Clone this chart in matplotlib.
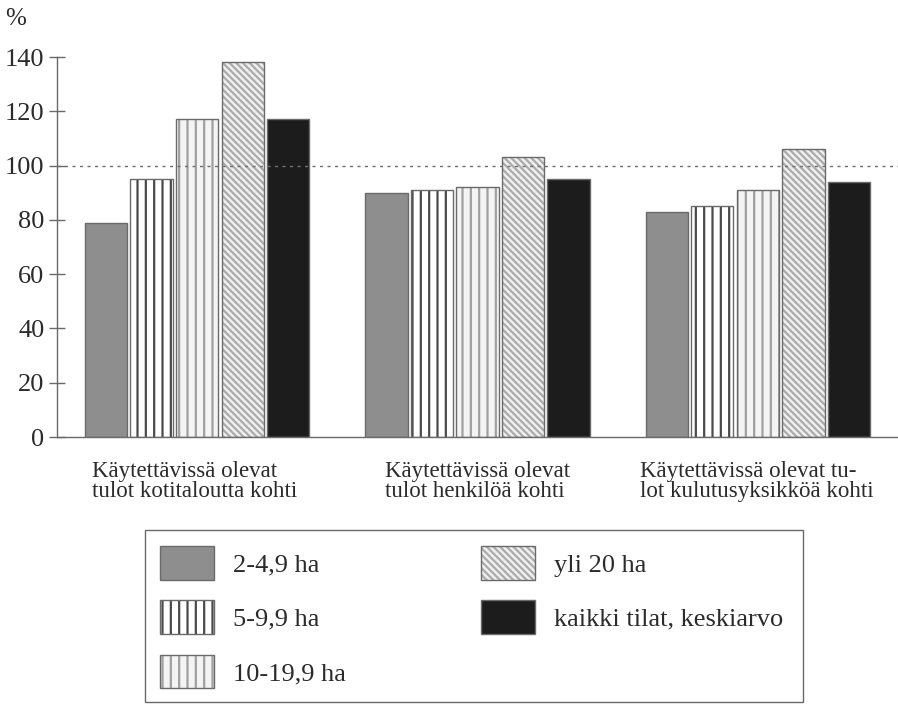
import matplotlib
matplotlib.use("Agg")
import matplotlib.pyplot as plt
import numpy as np
from matplotlib.patches import Patch, Rectangle
from matplotlib.legend_handler import HandlerTuple
from matplotlib.transforms import blended_transform_factory

plt.rcParams['font.family'] = ['Liberation Serif', 'DejaVu Serif']
plt.rcParams['hatch.linewidth'] = 1.6

# --- data -------------------------------------------------------------
categories = [
    "Käytettävissä olevat\ntulot kotitaloutta kohti",
    "Käytettävissä olevat\ntulot henkilöä kohti",
    "Käytettävissä olevat tu-\nlot kulutusyksikköä kohti",
]
series_labels = ["2-4,9 ha", "5-9,9 ha", "10-19,9 ha", "yli 20 ha",
                 "kaikki tilat, keskiarvo"]
ha_2_4 = [79, 90, 83]
ha_5_9 = [95, 91, 85]
ha_10_19 = [117, 92, 91]
ha_over_20 = [138, 103, 106]
all_farms_mean = [117, 95, 94]
series_values = [ha_2_4, ha_5_9, ha_10_19, ha_over_20, all_farms_mean]
reference_level = 100
y_ticks = [0, 20, 40, 60, 80, 100, 120, 140]

# --- styles -----------------------------------------------------------
face_colors = ['#8e8e8e', '#ffffff', '#f4f4f4', '#f0f0f0', '#1c1c1c']
hatches = [None, '||', '||', '\\\\\\\\\\', None]
hatch_colors = ['#8e8e8e', '#4a4a4a', '#a0a0a0', '#ababab', '#1c1c1c']
outline = '#6a6a6a'
text_color = '#2b2b2b'

W, H = 898, 705
fig = plt.figure(figsize=(W / 100, H / 100), dpi=100)
fig.patch.set_facecolor('white')

ax_left, ax_right, ax_top, ax_bottom = 57, 898, 57, 437
ax = fig.add_axes([ax_left / W, 1 - ax_bottom / H,
                   (ax_right - ax_left) / W, (ax_bottom - ax_top) / H])

x = np.arange(len(categories))
pitch = 0.1625
width = 0.151
handles = []
for i, vals in enumerate(series_values):
    pos = x + (i - 2) * pitch
    ax.bar(pos, vals, width, color=face_colors[i], linewidth=0, zorder=2)
    if hatches[i]:
        ax.bar(pos, vals, width, fill=False, hatch=hatches[i],
               edgecolor=hatch_colors[i], linewidth=0, zorder=2.1)
    ax.bar(pos, vals, width, fill=False, edgecolor=outline,
           linewidth=1.0, zorder=2.2)
    layers = [Patch(facecolor=face_colors[i], linewidth=0)]
    if hatches[i]:
        layers.append(Patch(fill=False, hatch=hatches[i],
                            edgecolor=hatch_colors[i], linewidth=0))
    layers.append(Patch(fill=False, edgecolor=outline, linewidth=1.0))
    handles.append(tuple(layers))

ax.axhline(reference_level, color='#6f6f6f', linewidth=1.0,
           linestyle=(0, (2.2, 3.2)), zorder=3)

ax.set_xlim(-0.5, 2.5)
ax.set_ylim(0, 140)
ax.set_yticks(y_ticks)
ax.set_yticklabels([str(t) for t in y_ticks], fontsize=19, color=text_color)
ax.tick_params(axis='y', direction='inout', length=12, width=1.0,
               color='#6a6a6a', pad=3)
ax.set_xticks([])
for side in ['top', 'right']:
    ax.spines[side].set_visible(False)
for side in ['left', 'bottom']:
    ax.spines[side].set_color('#6a6a6a')
    ax.spines[side].set_linewidth(1.0)
ax.set_facecolor('none')

# category captions under each group, left aligned
label_offsets = [-0.375, -0.330, -0.420]
trans = blended_transform_factory(ax.transData, fig.transFigure)
for xi, off, text in zip(x, label_offsets, categories):
    ax.text(xi + off, 1 - 461 / H, text, transform=trans, ha='left',
            va='top', fontsize=16.5, color=text_color, linespacing=0.92,
            multialignment='left')

fig.text(16 / W, 1 - 19 / H, '%', ha='center', va='center', fontsize=18,
         color=text_color)

# legend with framed box
fig.patches.append(Rectangle((145 / W, 1 - 702 / H), (803 - 145) / W,
                             (702 - 530) / H, transform=fig.transFigure,
                             fill=False, edgecolor='#6a6a6a', linewidth=1.0))
fs = 19
fs_px = fs * 100 / 72
leg = fig.legend(handles, series_labels, loc='upper left',
                 bbox_to_anchor=(160 / W, 1 - 546 / H), ncol=2,
                 frameon=False, fontsize=fs, borderpad=0, borderaxespad=0,
                 handlelength=54 / fs_px, handleheight=42 / fs_px,
                 handletextpad=19 / fs_px, labelspacing=20.5 / fs_px,
                 columnspacing=5.11,
                 handler_map={tuple: HandlerTuple(ndivide=1, pad=0)})
for t in leg.get_texts():
    t.set_color(text_color)

fig.savefig('out.png', dpi=100)
